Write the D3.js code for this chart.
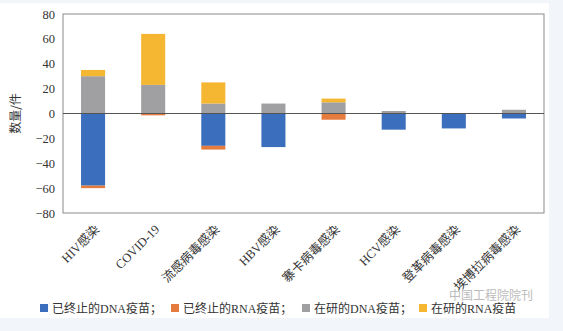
<!DOCTYPE html>
<html>
<head>
<meta charset="utf-8">
<script src="https://cdn.jsdelivr.net/npm/d3@7"></script>
<style>
  html, body { margin: 0; padding: 0; background: #f2f5f9; }
  svg { display: block; }
</style>
</head>
<body>
<svg id="chart" width="563" height="331"></svg>
<script>
// categories along the x axis
const categories = ["HIV感染", "COVID-19", "流感病毒感染", "HBV感染", "寨卡病毒感染", "HCV感染", "登革病毒感染", "埃博拉病毒感染"];

// counts per category (terminated ones are drawn below zero)
const stoppedDNA = [58, 0, 26, 27, 0, 13, 12, 4];
const stoppedRNA = [2, 1.5, 3, 0, 5, 0, 0, 0];
const activeDNA  = [30, 23, 8, 8, 9, 2, 0, 3];
const activeRNA  = [5, 41, 17, 0, 3, 0, 0, 0];

const seriesNames = ["已终止的DNA疫苗；", "已终止的RNA疫苗；", "在研的DNA疫苗；", "在研的RNA疫苗"];
const seriesColors = ["#3b6ebd", "#e57b3c", "#a0a0a2", "#f5b632"];
const yTicks = [80, 60, 40, 20, 0, -20, -40, -60, -80];

const svg = d3.select("#chart");
const W = 563, H = 331;
const margin = { left: 63, right: 19, top: 14, bottom: 118 };

// white card with a pale edge
svg.append("rect").attr("x", 0).attr("y", 3).attr("width", 549).attr("height", 315).attr("fill", "#fff");

const x = d3.scaleBand()
  .domain(categories)
  .range([margin.left, W - margin.right])
  .paddingInner(0.6)
  .paddingOuter(0.3);

const y = d3.scaleLinear()
  .domain([-80, 80])
  .range([H - margin.bottom, margin.top]);

const serif = "'Liberation Serif', 'Times New Roman', 'Noto Sans CJK SC', serif";

// plot frame
svg.append("rect")
  .attr("x", margin.left).attr("y", y(80))
  .attr("width", W - margin.right - margin.left).attr("height", y(-80) - y(80))
  .attr("fill", "none").attr("stroke", "#8a8a8a").attr("stroke-width", 1);

// build stacked segments: positive go up from zero, negative go down
const segs = [];
categories.forEach((c, i) => {
  let neg = 0, pos = 0;
  [[stoppedDNA, 0], [stoppedRNA, 1]].forEach(([arr, s]) => {
    const v = arr[i];
    if (v > 0) { segs.push({ c, s, y0: -neg, y1: -(neg + v) }); neg += v; }
  });
  [[activeDNA, 2], [activeRNA, 3]].forEach(([arr, s]) => {
    const v = arr[i];
    if (v > 0) { segs.push({ c, s, y0: pos, y1: pos + v }); pos += v; }
  });
});

svg.append("g").selectAll("rect")
  .data(segs)
  .join("rect")
  .attr("x", d => x(d.c))
  .attr("width", x.bandwidth())
  .attr("y", d => y(Math.max(d.y0, d.y1)))
  .attr("height", d => Math.abs(y(d.y0) - y(d.y1)))
  .attr("fill", d => seriesColors[d.s]);

// zero line
svg.append("line")
  .attr("x1", margin.left).attr("x2", W - margin.right)
  .attr("y1", y(0)).attr("y2", y(0))
  .attr("stroke", "#555").attr("stroke-width", 1);

// y axis tick labels
const yAxis = d3.axisLeft(y).tickValues(yTicks).tickSize(0).tickPadding(8)
  .tickFormat(d => d < 0 ? "\u2212" + Math.abs(d) : d);
const gy = svg.append("g").attr("transform", `translate(${margin.left},0)`).call(yAxis);
gy.select(".domain").remove();
gy.selectAll("text").attr("font-family", serif).attr("font-size", 12.5).attr("fill", "#333");

// y axis title
svg.append("text")
  .attr("transform", `translate(20,${y(0)}) rotate(-90)`)
  .attr("text-anchor", "middle")
  .attr("font-family", "'Noto Sans CJK SC', sans-serif")
  .attr("font-size", 12).attr("fill", "#333")
  .text("数量/件");

// rotated category labels
svg.append("g").selectAll("text")
  .data(categories)
  .join("text")
  .attr("transform", d => `translate(${x(d) + x.bandwidth() / 2 + 4},${y(-80) + 14}) rotate(-45)`)
  .attr("text-anchor", "end")
  .attr("dy", "0.35em")
  .attr("font-family", serif)
  .attr("font-size", 12.5).attr("fill", "#333")
  .text(d => d);

// legend
const legendX = [40, 171, 302, 419];
const lg = svg.append("g").selectAll("g")
  .data(seriesNames)
  .join("g")
  .attr("transform", (d, i) => `translate(${legendX[i]},${309})`);
lg.append("rect").attr("x", 0).attr("y", -5).attr("width", 8).attr("height", 8)
  .attr("fill", (d, i) => seriesColors[i]);
lg.append("text").attr("x", 12).attr("dy", "0.35em")
  .attr("font-family", serif).attr("font-size", 12).attr("fill", "#333")
  .text(d => d);

// faint source mark
svg.append("text")
  .attr("x", 449).attr("y", 300)
  .attr("font-family", "'Noto Sans CJK SC', sans-serif")
  .attr("font-size", 12).attr("fill", "#bbb")
  .text("中国工程院院刊");
</script>
</body>
</html>
